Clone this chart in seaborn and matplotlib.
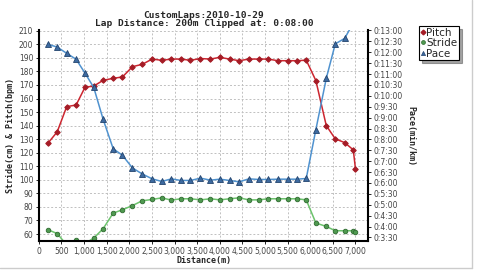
import matplotlib
matplotlib.use("Agg")
import matplotlib.pyplot as plt
import seaborn as sns
import pandas as pd
from matplotlib.lines import Line2D
from matplotlib.ticker import FuncFormatter, FixedLocator

# ---- data ----
distance = [200, 405, 615, 823, 1020, 1213, 1420, 1642, 1847, 2069, 2283, 2504,
            2717, 2931, 3137, 3352, 3573, 3794, 4000, 4215, 4429, 4642, 4856,
            5071, 5283, 5498, 5712, 5911, 6124, 6354, 6553, 6759, 6951, 7000]
pitch = [127, 135.4, 154, 155.2, 168.3, 169.2, 173.4, 174.9, 175.9, 183.5, 185.2,
         189.1, 188.2, 189.1, 189.1, 188.2, 189.5, 189.1, 190.4, 189.1, 187.9,
         189.1, 189.1, 189.1, 187.9, 187.9, 187.9, 188.3, 173.2, 140, 130.2,
         127.5, 122.1, 107.9]
stride = [63.2, 60.3, 52, 55.5, 53, 57.0, 63.9, 75.4, 77.9, 81.0, 84.5, 85.5,
          86.7, 85.0, 86.0, 86.0, 85.2, 86.0, 85.2, 86.0, 86.7, 85.2, 85.2, 86,
          86, 86, 86, 85.2, 68.1, 65.6, 62.4, 62.4, 62.4, 61.3]
pace_sec = [741.7, 734.3, 717, 700.7, 662.4, 623, 535.5, 454.5, 436.2, 401.4,
            385, 371.4, 364.2, 371.4, 367, 367, 373.3, 367.8, 370.5, 367, 363.2,
            371.4, 369.7, 369.7, 370.5, 370.5, 370.5, 372.4, 507, 648, 743, 758,
            800, 830]

title_lines = ["CustomLaps:2010-10-29", "Lap Distance: 200m Clipped at: 0:08:00"]
left_ticks = list(range(60, 211, 10))
right_ticks = list(range(210, 781, 30))
x_ticks = list(range(0, 7001, 500))

df = pd.DataFrame({"Distance": distance, "Pitch": pitch, "Stride": stride,
                   "Pace": pace_sec})

sns.set_style("white")
plt.rcParams['font.family'] = ['DejaVu Sans']

c_pitch_line, c_pitch_mk = "#cc2630", "#a51c26"
c_str_line, c_str_mk, c_str_edge = "#6cc36c", "#4f9a50", "#2f6a30"
c_pace_line, c_pace_mk, c_pace_edge = "#4f92cf", "#3d6aa0", "#23446e"

fig = plt.figure(figsize=(4.8, 2.71), dpi=100)
ax = fig.add_axes([0.081, 0.109, 0.686, 0.780])
ax2 = ax.twinx()

sns.lineplot(data=df, x="Distance", y="Pitch", ax=ax, color=c_pitch_line, lw=1.1,
             marker="D", markersize=2.8, markerfacecolor=c_pitch_mk,
             markeredgecolor=c_pitch_mk, legend=False)
sns.lineplot(data=df, x="Distance", y="Stride", ax=ax, color=c_str_line, lw=1.1,
             marker="o", markersize=3.3, markerfacecolor=c_str_mk,
             markeredgecolor=c_str_edge, markeredgewidth=0.6, legend=False)
sns.lineplot(data=df, x="Distance", y="Pace", ax=ax2, color=c_pace_line, lw=1.1,
             marker="^", markersize=3.8, markerfacecolor=c_pace_mk,
             markeredgecolor=c_pace_edge, markeredgewidth=0.6, legend=False)

ax.set_xlim(0, 7280)
ax.set_ylim(54.5, 210.5)
ax2.set_ylim(199, 781)

ax.xaxis.set_major_locator(FixedLocator(x_ticks))
ax.xaxis.set_major_formatter(FuncFormatter(lambda v, p: f"{int(v):,}"))
ax.yaxis.set_major_locator(FixedLocator(left_ticks))
ax2.yaxis.set_major_locator(FixedLocator(right_ticks))
ax2.yaxis.set_major_formatter(
    FuncFormatter(lambda v, p: f"0:{int(v)//60}:{int(v)%60:02d}"))

ax.grid(True, color="#c0c0c0", linestyle=(0, (2, 2)), linewidth=0.7)
ax.set_axisbelow(True)
ax2.grid(False)

for a in (ax, ax2):
    a.spines["top"].set_visible(False)
    for s in ("left", "bottom", "right"):
        a.spines[s].set_color("black")
        a.spines[s].set_linewidth(1.5)
ax.spines["right"].set_visible(False)
ax2.spines["left"].set_visible(False)
ax2.spines["bottom"].set_visible(False)

ax.tick_params(axis="both", labelsize=5.5, labelcolor="#444444", color="black",
               length=2.5, width=0.6, pad=1.5, direction="out",
               left=True, bottom=True)
ax2.tick_params(axis="y", labelsize=5.5, labelcolor="#444444", color="black",
                length=2.5, width=0.6, pad=1.5, direction="out", right=True)

ax.set_xlabel("Distance(m)", fontsize=6, fontweight="bold",
              family="DejaVu Sans Mono", labelpad=0)
ax.set_ylabel("Stride(cm) & Pitch(bpm)", fontsize=6, fontweight="bold",
              family="DejaVu Sans Mono", labelpad=3)
ax2.set_ylabel("Pace(min/km)", fontsize=6, fontweight="bold",
               family="DejaVu Sans Mono", rotation=270, labelpad=9)

fig.text(0.4245, 1 - 15.5 / 271, title_lines[0], ha="center", va="center",
         fontsize=6.8, fontweight="bold", family="DejaVu Sans Mono")
fig.text(0.4245, 1 - 23.5 / 271, title_lines[1], ha="center", va="center",
         fontsize=6.8, fontweight="bold", family="DejaVu Sans Mono")

handles = [
    Line2D([], [], linestyle="none", marker="D", markersize=2.4,
           markerfacecolor=c_pitch_mk, markeredgecolor=c_pitch_mk),
    Line2D([], [], linestyle="none", marker="o", markersize=2.8,
           markerfacecolor=c_str_mk, markeredgecolor=c_str_edge,
           markeredgewidth=0.5),
    Line2D([], [], linestyle="none", marker="^", markersize=3.0,
           markerfacecolor=c_pace_mk, markeredgecolor=c_pace_edge,
           markeredgewidth=0.5),
]
leg = fig.legend(handles, ["Pitch", "Stride", "Pace"], loc="upper left",
                 bbox_to_anchor=(419 / 480, 1 - 26 / 271), fontsize=7.5,
                 frameon=True, fancybox=False, shadow=True, borderpad=0.15,
                 handlelength=0.4, handletextpad=0.15, labelspacing=0.05,
                 borderaxespad=0)
leg.get_frame().set_edgecolor("black")
leg.get_frame().set_linewidth(0.8)

# light outer border lines
fig.add_artist(Line2D([471.5 / 480, 471.5 / 480], [1 - 268 / 271, 1],
                      transform=fig.transFigure, color="#cccccc", lw=1))
fig.add_artist(Line2D([0, 471.5 / 480], [1 - 268 / 271, 1 - 268 / 271],
                      transform=fig.transFigure, color="#cccccc", lw=1))

fig.savefig("out.png", dpi=100)
